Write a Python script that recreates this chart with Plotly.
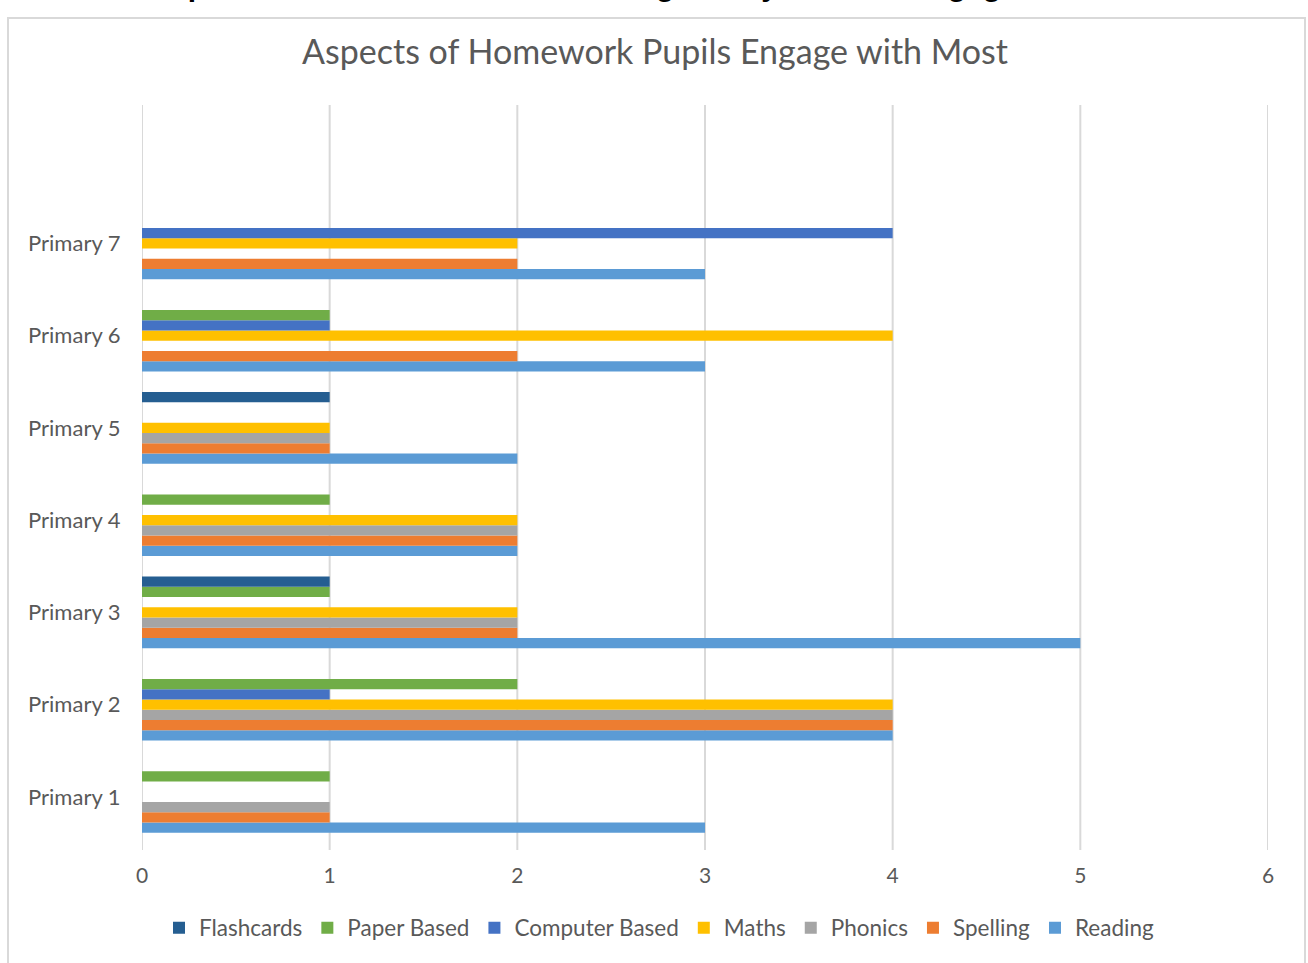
import plotly.graph_objects as go

categories = ["Primary 1", "Primary 2", "Primary 3", "Primary 4", "Primary 5", "Primary 6", "Primary 7"]
reading = [3, 4, 5, 2, 2, 3, 3]
spelling = [1, 4, 2, 2, 1, 2, 2]
phonics = [1, 4, 2, 2, 1, 0, 0]
maths = [0, 4, 2, 2, 1, 4, 2]
computer_based = [0, 1, 0, 0, 0, 1, 4]
paper_based = [1, 2, 1, 1, 0, 1, 0]
flashcards = [0, 0, 1, 0, 1, 0, 0]
x_ticks = [0, 1, 2, 3, 4, 5, 6]

series = [
    ("Reading", reading, "#5B9BD5"),
    ("Spelling", spelling, "#ED7D31"),
    ("Phonics", phonics, "#A5A5A5"),
    ("Maths", maths, "#FFC000"),
    ("Computer Based", computer_based, "#4472C4"),
    ("Paper Based", paper_based, "#70AD47"),
    ("Flashcards", flashcards, "#255E91"),
]

FONT = "Lato"
TXT = "#595959"

fig = go.Figure()
for name, vals, col in series:
    fig.add_trace(go.Bar(y=categories, x=vals, name=name, orientation="h",
                         marker=dict(color=col, line=dict(width=0))))

W, H = 1308, 963
L, R, T, B = 142, 40, 105, 120
pw, ph = W - L - R, H - T - B

def px(x):
    return (x - L) / pw

def py(y):
    return (H - B - y) / ph

fig.update_layout(
    width=W, height=H,
    margin=dict(l=L, r=R, t=T, b=B, autoexpand=False),
    paper_bgcolor="white", plot_bgcolor="white",
    barmode="group", bargap=0.22, bargroupgap=0,
    font=dict(family=FONT, color=TXT, size=21),
    title=dict(text="Aspects of Homework Pupils Engage with Most",
               x=655 / W, xref="container", xanchor="center",
               y=1 - 52 / H, yref="container", yanchor="middle",
               font=dict(family=FONT, size=34, color=TXT)),
    legend=dict(orientation="h", traceorder="reversed",
                x=px(659), xref="paper", xanchor="center",
                y=py(928), yanchor="middle",
                font=dict(family=FONT, size=22.5, color=TXT),
                itemwidth=30, tracegroupgap=0),
    xaxis=dict(range=[0, 6], tickvals=x_ticks, showgrid=False,
               zeroline=False, showline=False, ticks="outside", ticklen=14,
               tickcolor="rgba(0,0,0,0)", tickwidth=2,
               tickfont=dict(family=FONT, size=21, color=TXT)),
    yaxis=dict(type="category", categoryorder="array", categoryarray=categories,
               range=[-0.5, 7.5], showgrid=False, zeroline=False,
               showline=False, ticks="outside", ticklen=16, tickcolor="rgba(0,0,0,0)",
               tickfont=dict(family=FONT, size=22, color=TXT)),
    shapes=[dict(type="rect", xref="paper", yref="paper",
                 x0=px(8), x1=px(1305), y0=py(975), y1=py(18),
                 line=dict(color="#D9D9D9", width=2), fillcolor="rgba(0,0,0,0)",
                 layer="below")] + [
        dict(type="line", xref="x", yref="paper", x0=v, x1=v, y0=py(850), y1=1,
             line=dict(color="#D9D9D9", width=2), layer="below") for v in x_ticks],
    annotations=[dict(text="<b>Which aspects of homework/home learning does your child engage with most?</b>",
                      xref="paper", yref="paper", x=px(620), y=py(4),
                      xanchor="center", yanchor="bottom", showarrow=False,
                      font=dict(family="Liberation Sans", size=30, color="black"))],
)

fig.write_html("out.html", config={"displayModeBar": False},
               post_script="document.body.style.margin='0';document.body.style.overflow='hidden';")
